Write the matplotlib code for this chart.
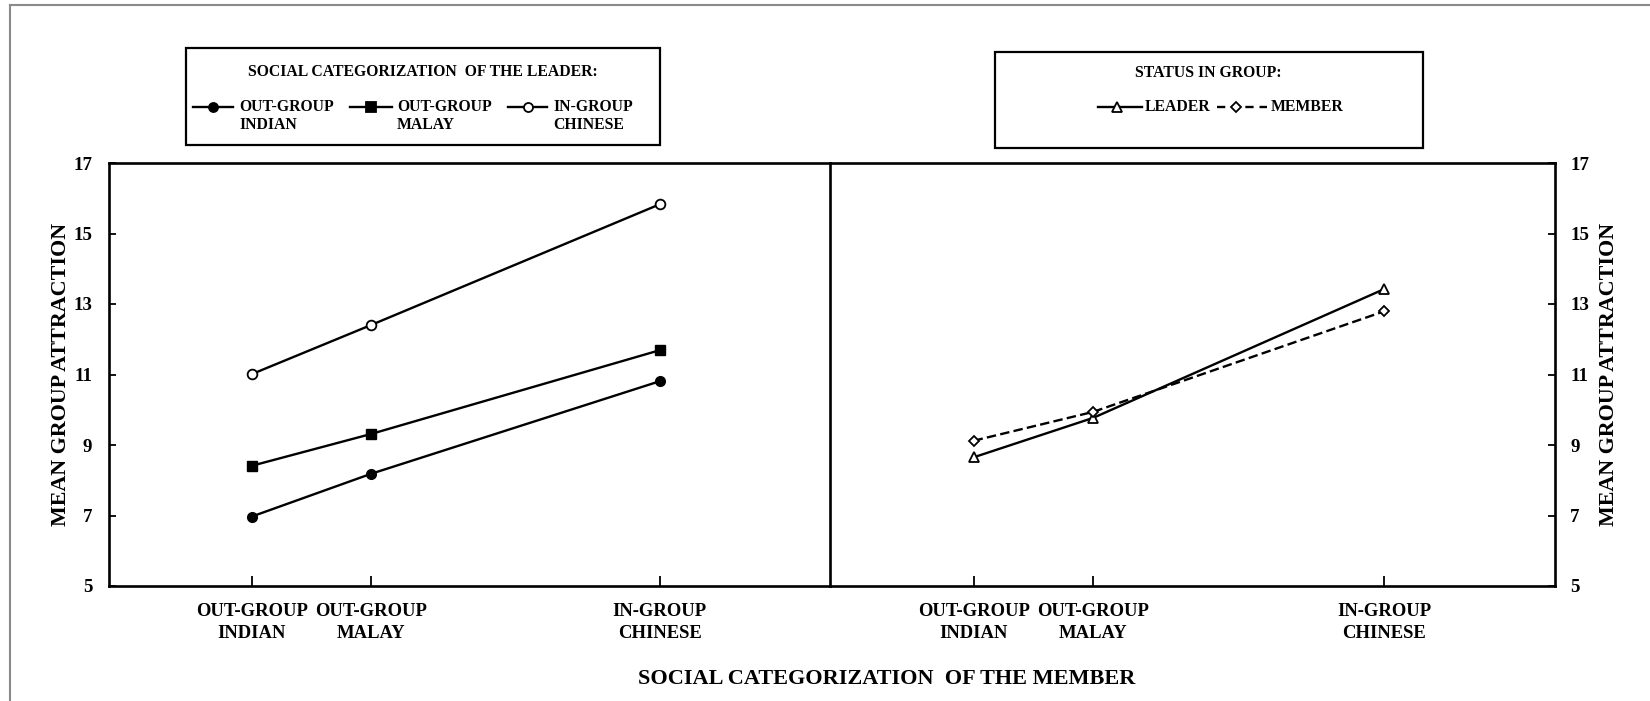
import matplotlib
matplotlib.use("Agg")
import matplotlib.pyplot as plt
from matplotlib.lines import Line2D
from matplotlib.patches import Rectangle

plt.rcParams['font.family'] = ['Liberation Serif', 'DejaVu Serif']
plt.rcParams['font.weight'] = 'bold'

# data
member_cats = ["OUT-GROUP\nINDIAN", "OUT-GROUP\nMALAY", "IN-GROUP\nCHINESE"]
leader_indian = [6.97, 8.18, 10.81]
leader_malay = [8.41, 9.31, 11.69]
leader_chinese = [11.01, 12.40, 15.83]
status_leader = [8.65, 9.77, 13.42]
status_member = [9.12, 9.94, 12.79]
y_ticks = [5, 7, 9, 11, 13, 15, 17]

# layout (pixels of a 1650x701 canvas)
W, H = 1650, 701
x_pos = [0, 1, 3.43]
x_lim = (-1.2, 4.86)


def fx(px):
    return px / W


def fy(py):
    return 1 - py / H


fig = plt.figure(figsize=(16.5, 7.01), dpi=100)

top, bot = 163, 586
ax1 = fig.add_axes([fx(109), fy(bot), fx(830 - 109), (bot - top) / H])
ax2 = fig.add_axes([fx(830), fy(bot), fx(1555 - 830), (bot - top) / H])
ax2.patch.set_visible(False)

lw = 1.7
ax1.plot(x_pos, leader_indian, color='black', lw=lw, marker='o', ms=7, mfc='black')
ax1.plot(x_pos, leader_malay, color='black', lw=lw, marker='s', ms=7, mfc='black')
ax1.plot(x_pos, leader_chinese, color='black', lw=lw, marker='o', ms=7, mfc='white', mew=1.3)
ax2.plot(x_pos, status_leader, color='black', lw=lw, marker='^', ms=7, mfc='white', mew=1.3)
ax2.plot(x_pos, status_member, color='black', lw=lw, marker='D', ms=5.5, mfc='white', mew=1.3,
         dashes=(4, 1.8))

for ax in (ax1, ax2):
    ax.set_xlim(*x_lim)
    ax.set_ylim(5, 17)
    ax.set_yticks(y_ticks)
    ax.set_xticks(x_pos)
    ax.set_xticklabels(member_cats, fontsize=13.4, fontweight='bold', linespacing=1.4)
    ax.tick_params(axis='x', direction='in', length=7, width=1.3, pad=12)
    for s in ax.spines.values():
        s.set_linewidth(1.9)

ax1.tick_params(axis='y', direction='in', length=5, width=1.3, pad=12, labelsize=13.6)
ax2.yaxis.tick_right()
ax2.yaxis.set_label_position('right')
ax2.tick_params(axis='y', direction='in', length=5, width=1.3, pad=11, labelsize=13.6,
                left=False, labelleft=False, right=True, labelright=True)
ax2.spines['left'].set_visible(False)
for ax in (ax1, ax2):
    for lab in ax.get_yticklabels():
        lab.set_fontweight('bold')

ax1.set_ylabel("MEAN GROUP ATTRACTION", fontsize=15.8, fontweight='bold')
ax1.yaxis.set_label_coords((71 - 109) / (830 - 109), 0.5)
ax2.set_ylabel("MEAN GROUP ATTRACTION", fontsize=15.8, fontweight='bold', rotation=90)
ax2.yaxis.set_label_coords((1599 - 830) / (1555 - 830), 0.5)

fig.text(fx(887), fy(679), "SOCIAL CATEGORIZATION  OF THE MEMBER", fontsize=16,
         fontweight='bold', ha='center', va='center')

# legend boxes drawn by hand
fs_leg = 11.3
fig.add_artist(Rectangle((fx(186), fy(145)), fx(660 - 186), (145 - 48) / H,
                         transform=fig.transFigure, fill=False, lw=1.6, ec='black'))
fig.text(fx(423), fy(72), "SOCIAL CATEGORIZATION  OF THE LEADER:", fontsize=fs_leg,
         fontweight='bold', ha='center', va='center')
left_entries = [
    (193, 233, 'o', 'black', "OUT-GROUP\nINDIAN", 239),
    (350, 392, 's', 'black', "OUT-GROUP\nMALAY", 397),
    (508, 547, 'o', 'white', "IN-GROUP\nCHINESE", 553),
]
for x0, x1, mk, fc, lab, tx in left_entries:
    fig.add_artist(Line2D([fx(x0), fx(x1)], [fy(107), fy(107)], transform=fig.transFigure,
                          color='black', lw=lw))
    fig.add_artist(Line2D([fx((x0 + x1) / 2)], [fy(107)], transform=fig.transFigure,
                          marker=mk, ms=6.5, mfc=fc, mec='black', mew=1.3, ls='none'))
    fig.text(fx(tx), fy(99), lab, fontsize=fs_leg, fontweight='bold', ha='left', va='top',
             linespacing=1.2)

fig.add_artist(Rectangle((fx(995), fy(148)), fx(1423 - 995), (148 - 52) / H,
                         transform=fig.transFigure, fill=False, lw=1.6, ec='black'))
fig.text(fx(1208), fy(73), "STATUS IN GROUP:", fontsize=fs_leg, fontweight='bold',
         ha='center', va='center')
fig.add_artist(Line2D([fx(1098), fx(1142)], [fy(107), fy(107)], transform=fig.transFigure,
                      color='black', lw=lw))
fig.add_artist(Line2D([fx(1117)], [fy(107)], transform=fig.transFigure, marker='^', ms=6.5,
                      mfc='white', mec='black', mew=1.3, ls='none'))
fig.text(fx(1145), fy(107), "LEADER", fontsize=fs_leg, fontweight='bold', ha='left', va='center')
fig.add_artist(Line2D([fx(1217), fx(1267)], [fy(107), fy(107)], transform=fig.transFigure,
                      color='black', lw=lw, dashes=(3.5, 2.5)))
fig.add_artist(Line2D([fx(1236)], [fy(107)], transform=fig.transFigure, marker='D', ms=5,
                      mfc='white', mec='black', mew=1.3, ls='none'))
fig.text(fx(1271), fy(107), "MEMBER", fontsize=fs_leg, fontweight='bold', ha='left', va='center')

# light grey frame of the original image (top and left edges)
fig.add_artist(Line2D([fx(10), fx(1650)], [fy(5), fy(5)], transform=fig.transFigure,
                      color='#8a8a8a', lw=1.5))
fig.add_artist(Line2D([fx(10), fx(10)], [fy(5), fy(701)], transform=fig.transFigure,
                      color='#8a8a8a', lw=1.5))

fig.savefig("out.png", dpi=100)
